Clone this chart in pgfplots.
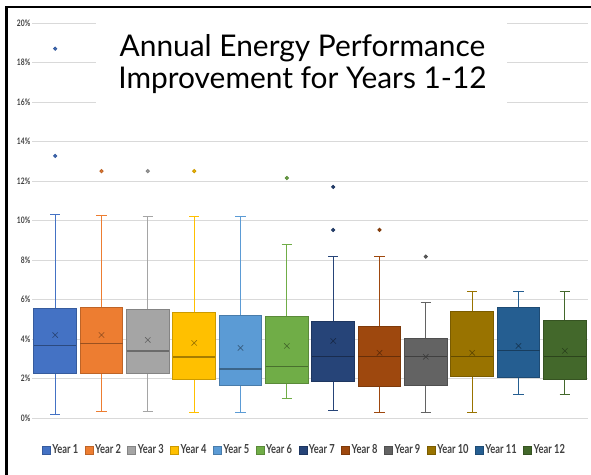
\documentclass[border=0pt]{standalone}
\usepackage{fontspec}
\setmainfont{Lato}
\newfontfamily\narrowfont{Lato}[FakeStretch=0.75]
\usepackage{pgfplots}
\usepgfplotslibrary{statistics}
\pgfplotsset{compat=1.18}
\definecolor{c1}{HTML}{4472C4}
\definecolor{c2}{HTML}{ED7D31}
\definecolor{c3}{HTML}{A5A5A5}
\definecolor{c4}{HTML}{FFC000}
\definecolor{c5}{HTML}{5B9BD5}
\definecolor{c6}{HTML}{70AD47}
\definecolor{c7}{HTML}{264478}
\definecolor{c8}{HTML}{9E480E}
\definecolor{c9}{HTML}{636363}
\definecolor{c10}{HTML}{997300}
\definecolor{c11}{HTML}{255E91}
\definecolor{c12}{HTML}{43682B}
\pgfplotsset{
  ybox/.style={forget plot, solid, line width=0.9bp, draw=#1!80!black,
    mark=*, mark size=1.6bp, mark options={solid, fill=#1, draw=#1!80!black},
    boxplot/draw direction=y,
    boxplot/box extend=0.92, boxplot/whisker extend=0.22,
    boxplot/every box/.style={fill=#1, draw=#1!80!black, line width=1bp},
    boxplot/every whisker/.style={draw=#1, line width=0.8bp},
    boxplot/every median/.style={draw=#1!65!black, line width=1.1bp}},
  ymean/.style={forget plot, only marks, mark=x, mark size=3.8bp, line width=0.6bp, draw=#1!60!black},
  leg/.style={fill=#1, draw=#1!80!black},
}
\begin{document}
\begin{tikzpicture}
\useasboundingbox (-32bp,-57bp) rectangle (559bp,418bp);
\fill[white] (-32bp,-57bp) rectangle (559bp,418bp);
\begin{axis}[
  scale only axis, width=556bp, height=395bp,
  xmin=0.5, xmax=12.5, ymin=0, ymax=20,
  xtick=\empty, ytick={0,2,...,20},
  yticklabel={\pgfmathprintnumber{\tick}\%},
  yticklabel style={font=\narrowfont\bfseries\fontsize{9}{10}\selectfont, text=black!75, inner sep=1.5bp},
  /pgf/number format/assume math mode=true,
  ymajorgrids, grid style={draw=black!15, line width=0.8bp},
  axis line style={draw=none}, major tick style={draw=none},
  clip=false,
  legend columns=12,
  legend style={draw=none, fill=none, at={(0.49,-0.081)}, anchor=center,
    font=\narrowfont\bfseries\fontsize{12.5}{13}\selectfont, text=black!75,
    /tikz/every even column/.append style={column sep=4.5bp}},
  legend image code/.code={\draw[#1] (0bp,-4bp) rectangle (8bp,4bp);},
]
\addplot[ybox=c1, boxplot prepared={draw position=1, lower whisker=0.2, lower quartile=2.23, median=3.65, upper quartile=5.52, upper whisker=10.33}] coordinates {(1,13.27) (1,18.7)};
\addplot[ybox=c2, boxplot prepared={draw position=2, lower whisker=0.32, lower quartile=2.27, median=3.75, upper quartile=5.58, upper whisker=10.25}] coordinates {(2,12.5)};
\addplot[ybox=c3, boxplot prepared={draw position=3, lower whisker=0.32, lower quartile=2.23, median=3.39, upper quartile=5.47, upper whisker=10.2}] coordinates {(3,12.5)};
\addplot[ybox=c4, boxplot prepared={draw position=4, lower whisker=0.3, lower quartile=1.97, median=3.09, upper quartile=5.32, upper whisker=10.2}] coordinates {(4,12.5)};
\addplot[ybox=c5, boxplot prepared={draw position=5, lower whisker=0.3, lower quartile=1.67, median=2.48, upper quartile=5.2, upper whisker=10.2}] coordinates {};
\addplot[ybox=c6, boxplot prepared={draw position=6, lower whisker=1.0, lower quartile=1.77, median=2.63, upper quartile=5.12, upper whisker=8.8}] coordinates {(6,12.15)};
\addplot[ybox=c7, boxplot prepared={draw position=7, lower whisker=0.4, lower quartile=1.83, median=3.1, upper quartile=4.9, upper whisker=8.17}] coordinates {(7,9.52) (7,11.7)};
\addplot[ybox=c8, boxplot prepared={draw position=8, lower whisker=0.3, lower quartile=1.62, median=3.1, upper quartile=4.62, upper whisker=8.17}] coordinates {(8,9.52)};
\addplot[ybox=c9, boxplot prepared={draw position=9, lower whisker=0.3, lower quartile=1.67, median=3.1, upper quartile=4.0, upper whisker=5.87}] coordinates {(9,8.17)};
\addplot[ybox=c10, boxplot prepared={draw position=10, lower whisker=0.3, lower quartile=2.12, median=3.1, upper quartile=5.37, upper whisker=6.43}] coordinates {};
\addplot[ybox=c11, boxplot prepared={draw position=11, lower whisker=1.22, lower quartile=2.07, median=3.4, upper quartile=5.62, upper whisker=6.43}] coordinates {};
\addplot[ybox=c12, boxplot prepared={draw position=12, lower whisker=1.22, lower quartile=1.97, median=3.13, upper quartile=4.95, upper whisker=6.43}] coordinates {};
\addplot[ymean=c1] coordinates {(1,4.2)};
\addplot[ymean=c2] coordinates {(2,4.2)};
\addplot[ymean=c3] coordinates {(3,3.95)};
\addplot[ymean=c4] coordinates {(4,3.8)};
\addplot[ymean=c5] coordinates {(5,3.55)};
\addplot[ymean=c6] coordinates {(6,3.65)};
\addplot[ymean=c7] coordinates {(7,3.9)};
\addplot[ymean=c8] coordinates {(8,3.3)};
\addplot[ymean=c9] coordinates {(9,3.1)};
\addplot[ymean=c10] coordinates {(10,3.3)};
\addplot[ymean=c11] coordinates {(11,3.65)};
\addplot[ymean=c12] coordinates {(12,3.4)};
\addlegendimage{leg=c1}\addlegendentry{Year 1}
\addlegendimage{leg=c2}\addlegendentry{Year 2}
\addlegendimage{leg=c3}\addlegendentry{Year 3}
\addlegendimage{leg=c4}\addlegendentry{Year 4}
\addlegendimage{leg=c5}\addlegendentry{Year 5}
\addlegendimage{leg=c6}\addlegendentry{Year 6}
\addlegendimage{leg=c7}\addlegendentry{Year 7}
\addlegendimage{leg=c8}\addlegendentry{Year 8}
\addlegendimage{leg=c9}\addlegendentry{Year 9}
\addlegendimage{leg=c10}\addlegendentry{Year 10}
\addlegendimage{leg=c11}\addlegendentry{Year 11}
\addlegendimage{leg=c12}\addlegendentry{Year 12}
\end{axis}
\node[fill=white, minimum width=411bp, minimum height=86bp, inner sep=0pt] at (269.5bp,354bp) {};
\node[align=center, font=\fontsize{30}{33}\selectfont, inner sep=0pt] at (270.5bp,354bp) {Annual Energy Performance\\Improvement for Years 1-12};
\draw[line width=2.5bp] (-25.5bp,-57bp) -- (-25.5bp,411bp) -- (559bp,411bp);
\end{tikzpicture}
\end{document}
